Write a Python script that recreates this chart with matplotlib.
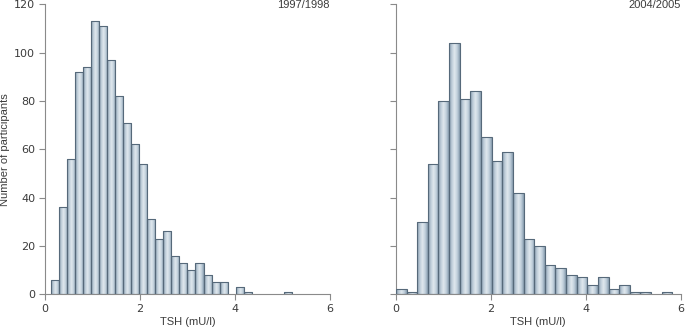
import matplotlib
matplotlib.use('Agg')
import matplotlib.pyplot as plt
from matplotlib.colors import LinearSegmentedColormap
import numpy as np

# TSH histogram counts
counts_9798 = [6, 36, 56, 92, 94, 113, 111, 97, 82, 71, 62, 54, 31, 23, 26,
               16, 13, 10, 13, 8, 5, 5, 0, 3, 1, 0, 0, 0, 0, 1]
start_9798 = 0.126
width_9798 = 0.169

counts_0405 = [2, 1, 30, 54, 80, 104, 81, 84, 65, 55, 59, 42, 23, 20, 12,
               11, 8, 7, 4, 7, 2, 4, 1, 1, 0, 1]
start_0405 = 0.0
width_0405 = 0.224

titles = ['1997/1998', '2004/2005']
xticks = [0, 2, 4, 6]
yticks = [0, 20, 40, 60, 80, 100, 120]

TXT = '#3c3c3c'
AX = '#8a8a8a'
EDGE = '#56697a'
plt.rcParams['font.family'] = ['Liberation Sans', 'DejaVu Sans']

# cylinder-like shading across each bar
shade = LinearSegmentedColormap.from_list(
    'bar', ['#8499aa', '#bccbd7', '#e0e8ee', '#c2d0dc', '#889daf'])
grad = np.linspace(0, 1, 64).reshape(1, -1)

fig = plt.figure(figsize=(6.85, 3.34), dpi=100)
ax1 = fig.add_axes([0.0657, 0.119, 0.4161, 0.868])
ax2 = fig.add_axes([0.578, 0.119, 0.4157, 0.868])

data = [(ax1, counts_9798, start_9798, width_9798),
        (ax2, counts_0405, start_0405, width_0405)]

for i, (ax, cnt, x0, w) in enumerate(data):
    lefts = x0 + w * np.arange(len(cnt))
    bars = ax.bar(lefts, cnt, width=w, align='edge', color='none',
                  edgecolor=EDGE, linewidth=0.8, zorder=3)
    for b, c in zip(bars, cnt):
        if c == 0:
            b.set_visible(False)
            continue
        bx, by = b.get_x(), b.get_y()
        im = ax.imshow(grad, cmap=shade, aspect='auto', zorder=2,
                       extent=[bx, bx + b.get_width(), by, by + b.get_height()])
        im.set_clip_path(b)
    ax.set_xlim(0, 6)
    ax.set_ylim(0, 120)
    ax.set_xticks(xticks)
    ax.set_yticks(yticks)
    for s in ('top', 'right'):
        ax.spines[s].set_visible(False)
    for s in ('left', 'bottom'):
        ax.spines[s].set_color(AX)
        ax.spines[s].set_linewidth(0.8)
    ax.tick_params(colors=AX, labelcolor=TXT, labelsize=8, length=4,
                   width=0.8, direction='out', pad=3)
    for lab in ax.get_xticklabels() + ax.get_yticklabels():
        lab.set_family('DejaVu Sans')
    ax.set_xlabel('TSH (mU/l)', color=TXT, fontsize=8, labelpad=2)
    ax.text(1.0, 0.997, titles[i], transform=ax.transAxes, ha='right',
            va='center', color=TXT, fontsize=8)

ax1.set_ylabel('Number of participants', color=TXT, fontsize=8, labelpad=3)
ax2.tick_params(axis='y', labelleft=False)

fig.savefig('out.png', dpi=100, facecolor='white')
